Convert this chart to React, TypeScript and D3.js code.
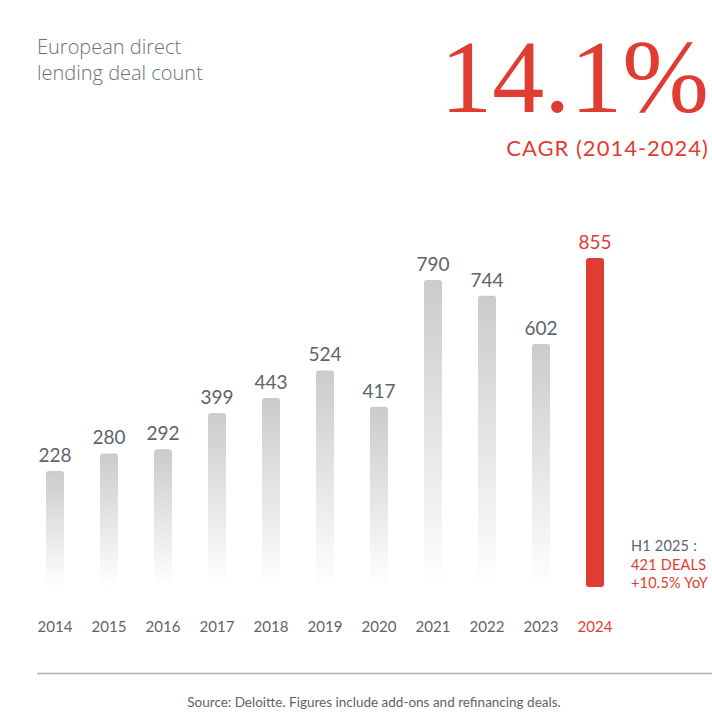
import React from 'react';
import * as d3 from 'd3';

const WIDTH = 712;
const HEIGHT = 712;
const RED = '#e03c31';
const GREY_TEXT = '#5d646c';

const years = ['2014', '2015', '2016', '2017', '2018', '2019', '2020', '2021', '2022', '2023', '2024'];
const deals = [228, 280, 292, 399, 443, 524, 417, 790, 744, 602, 855];
const titleLines = ['European direct', 'lending deal count'];
const headline = '14.1%';
const headlineSub = 'CAGR (2014-2024)';
const noteLines = ['H1 2025 :', '421 DEALS', '+10.5% YoY'];
const source = 'Source: Deloitte. Figures include add-ons and refinancing deals.';

const BASE_Y = 587;
const TOP_Y = 258;
const BAR_W = 18;

const App = () => {
  const xScale = d3.scalePoint<string>().domain(years).range([55, 595]);
  // bars start below zero so the smallest value still has some height
  const yScale = d3.scaleLinear().domain([-113, 855]).range([BASE_Y, TOP_Y]);
  const last = years.length - 1;

  return (
    <svg width={WIDTH} height={HEIGHT} style={{ position: 'absolute', left: 0, top: 0 }}>
      <defs>
        <linearGradient id="barFade" x1="0" y1="0" x2="0" y2="1">
          <stop offset="0%" stopColor="#cbcbcb" />
          <stop offset="100%" stopColor="#ffffff" />
        </linearGradient>
      </defs>
      <rect width={WIDTH} height={HEIGHT} fill="#fff" />

      <g fontFamily="'Open Sans', sans-serif" fontSize={20} fill="#6b7178" fontWeight={300}>
        {titleLines.map((t, i) => (
          <text key={t} x={37} y={54 + i * 26}>
            {t}
          </text>
        ))}
      </g>

      <text
        x={709}
        y={112}
        textAnchor="end"
        fontFamily="'Liberation Serif', serif"
        fontSize={104}
        fill={RED}
      >
        {headline}
      </text>
      <text
        x={709}
        y={156}
        textAnchor="end"
        fontFamily="'Lato', sans-serif"
        fontSize={22}
        fill={RED}
        letterSpacing={1}
      >
        {headlineSub}
      </text>

      {deals.map((v, i) => {
        const cx = xScale(years[i]) as number;
        const top = yScale(v);
        const isLast = i === last;
        return (
          <g key={years[i]}>
            <rect
              x={cx - BAR_W / 2}
              y={top}
              width={BAR_W}
              height={BASE_Y - top}
              rx={3}
              fill={isLast ? RED : 'url(#barFade)'}
            />
            <text
              x={cx}
              y={top - 9}
              textAnchor="middle"
              fontFamily="'Lato', sans-serif"
              fontSize={19}
              fill={isLast ? RED : GREY_TEXT}
            >
              {v}
            </text>
            <text
              x={cx}
              y={632}
              textAnchor="middle"
              fontFamily="'Lato', sans-serif"
              fontSize={15}
              fill={isLast ? RED : GREY_TEXT}
            >
              {years[i]}
            </text>
          </g>
        );
      })}

      <g fontFamily="'Lato', sans-serif" fontSize={14.5} letterSpacing={0.2}>
        {noteLines.map((t, i) => (
          <text key={t} x={631} y={551 + i * 18.5} fill={i === 0 ? GREY_TEXT : RED}>
            {t}
          </text>
        ))}
      </g>

      <line x1={37} x2={712} y1={673.5} y2={673.5} stroke="#b0b0b0" strokeWidth={1.5} />
      <text
        x={374}
        y={707}
        textAnchor="middle"
        fontFamily="'Lato', sans-serif"
        fontSize={13.5}
        fill={GREY_TEXT}
      >
        {source}
      </text>
    </svg>
  );
};

export default App;
